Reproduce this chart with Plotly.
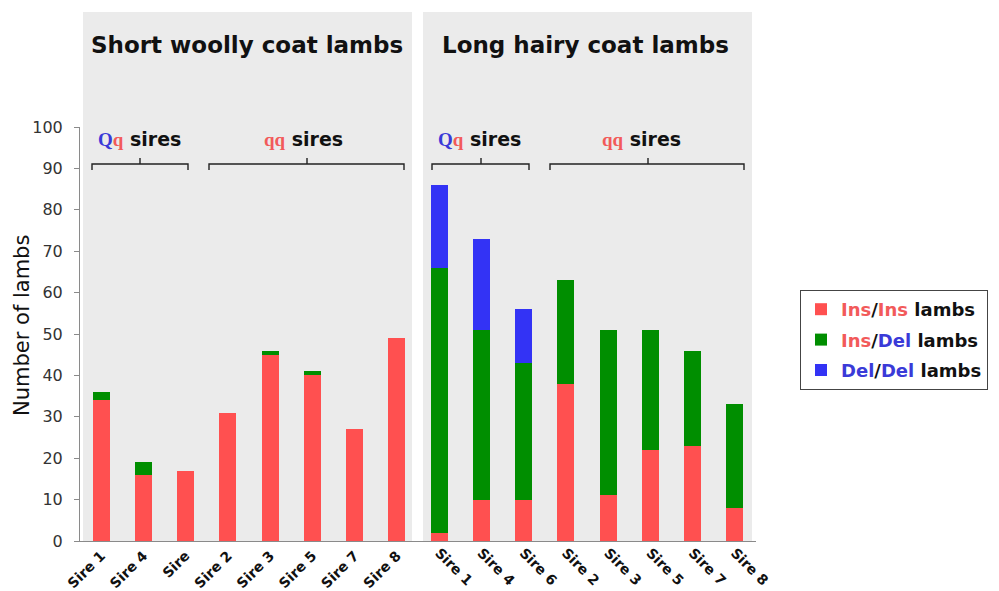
import plotly.graph_objects as go

# Sire labels for each coat group
short_sires = ["Sire 1", "Sire 4", "Sire", "Sire 2", "Sire 3", "Sire 5", "Sire 7", "Sire 8"]
long_sires = ["Sire 1", "Sire 4", "Sire 6", "Sire 2", "Sire 3", "Sire 5", "Sire 7", "Sire 8"]

# Lamb counts by genotype, short woolly coat
short_ins_ins = [34, 16, 17, 31, 45, 40, 27, 49]
short_ins_del = [2, 3, 0, 0, 1, 1, 0, 0]

# Lamb counts by genotype, long hairy coat
long_ins_ins = [2, 10, 10, 38, 11, 22, 23, 8]
long_ins_del = [64, 41, 33, 25, 40, 29, 23, 25]
long_del_del = [20, 22, 13, 0, 0, 0, 0, 0]

y_ticks = [0, 10, 20, 30, 40, 50, 60, 70, 80, 90, 100]

RED = "#FF5050"
GREEN = "#008E00"
BLUE = "#3333F5"
TXT_RED = "#F25A5A"
TXT_BLUE = "#3a3ad8"

short_pos = list(range(len(short_sires)))
long_pos = [len(short_sires) + i for i in range(len(long_sires))]

W, H = 999, 591
L, R, T, B = 80, 756, 127, 541


def px(x):
    return (x - L) / (R - L)


def py(y):
    return (B - y) / (B - T)


fig = go.Figure()

bar_w = 0.4

fig.add_trace(go.Bar(x=short_pos, y=short_ins_ins, marker_color=RED, width=bar_w,
                     xaxis="x", yaxis="y", showlegend=False))
fig.add_trace(go.Bar(x=short_pos, y=short_ins_del, marker_color=GREEN, width=bar_w,
                     xaxis="x", yaxis="y", showlegend=False))

legend_names = [
    f"<span style='color:{TXT_RED}'>Ins</span>/<span style='color:{TXT_RED}'>Ins</span> lambs",
    f"<span style='color:{TXT_RED}'>Ins</span>/<span style='color:{TXT_BLUE}'>Del</span> lambs",
    f"<span style='color:{TXT_BLUE}'>Del</span>/<span style='color:{TXT_BLUE}'>Del</span> lambs",
]
for i, (vals, col, name) in enumerate(zip([long_ins_ins, long_ins_del, long_del_del],
                                          [RED, GREEN, BLUE], legend_names)):
    fig.add_trace(go.Bar(x=long_pos, y=vals, marker_color=col, width=bar_w,
                         xaxis="x2", yaxis="y", name=name, legendgroup=f"g{i}"))

fig.update_traces(marker_line_width=0)

xr = [-0.5, len(short_pos) + len(long_pos) - 0.5]
tick_font = dict(family="DejaVu Sans", size=14, color="#111", weight="bold")

shapes = []
# shaded panels behind each group
for x0, x1 in [(83, 412), (423, 752)]:
    shapes.append(dict(type="rect", xref="paper", yref="paper", layer="below",
                       x0=px(x0), x1=px(x1), y0=0, y1=py(12),
                       fillcolor="#EBEBEB", line_width=0))

# braces grouping sires by genotype
for x0, x1, xc in [(92, 188, 140), (209, 404, 307), (432, 529, 481), (550, 744, 648)]:
    path = (f"M {px(x0)},{py(170)} L {px(x0)},{py(164)} L {px(x1)},{py(164)} "
            f"L {px(x1)},{py(170)} M {px(xc)},{py(164)} L {px(xc)},{py(158)}")
    shapes.append(dict(type="path", xref="paper", yref="paper", path=path,
                       line=dict(color="#222", width=1.4)))

serif = "font-family:Liberation Serif"
Qq = (f"<span style='{serif};color:{TXT_BLUE}'>Q</span>"
      f"<span style='{serif};color:{TXT_RED}'>q</span> sires")
qq = f"<span style='{serif};color:{TXT_RED}'>qq</span> sires"

annotations = [
    dict(text="<b>Short woolly coat lambs</b>", x=px(247), y=py(45)),
    dict(text="<b>Long hairy coat lambs</b>", x=px(585), y=py(45)),
    dict(text=f"<b>{Qq}</b>", x=px(139), y=py(139), font=dict(size=19)),
    dict(text=f"<b>{qq}</b>", x=px(303), y=py(139), font=dict(size=19)),
    dict(text=f"<b>{Qq}</b>", x=px(479), y=py(139), font=dict(size=19)),
    dict(text=f"<b>{qq}</b>", x=px(641), y=py(139), font=dict(size=19)),
    dict(text="Number of lambs", x=px(22), y=py(326), textangle=-90, font=dict(size=21)),
]
for a in annotations:
    a.update(xref="paper", yref="paper", showarrow=False, xanchor="center", yanchor="middle")
    a.setdefault("font", dict(size=23))
    a["font"] = dict(family="DejaVu Sans", color="#111", **a["font"])

fig.update_layout(
    width=W, height=H,
    margin=dict(l=L, r=W - R, t=T, b=H - B, pad=0, autoexpand=False),
    barmode="stack",
    paper_bgcolor="white",
    plot_bgcolor="rgba(0,0,0,0)",
    font=dict(family="DejaVu Sans", color="#222"),
    xaxis=dict(range=xr, tickmode="array", tickvals=short_pos, ticktext=short_sires,
               tickangle=-45, tickfont=tick_font, showgrid=False, zeroline=False,
               showline=True, linecolor="#8a8a8a", linewidth=1, ticks="",
               automargin=False),
    xaxis2=dict(range=xr, tickmode="array", tickvals=long_pos, ticktext=long_sires,
                tickangle=45, tickfont=tick_font, showgrid=False, zeroline=False,
                overlaying="x", side="bottom", anchor="y", showline=False, ticks="",
                automargin=False),
    yaxis=dict(range=[0, 100], tickmode="array", tickvals=y_ticks, showgrid=False,
               zeroline=False, showline=True, linecolor="#8a8a8a", linewidth=1,
               ticks="outside", ticklen=5, tickcolor="#8a8a8a", automargin=False,
               ticklabelstandoff=8,
               tickfont=dict(family="DejaVu Sans", size=16, color="#333")),
    legend=dict(x=px(800), y=py(290), xanchor="left", yanchor="top",
                traceorder="grouped", bgcolor="white", bordercolor="#444", borderwidth=1,
                font=dict(family="DejaVu Sans", size=18, color="#111", weight="bold"),
                itemsizing="constant", tracegroupgap=4),
    shapes=shapes,
    annotations=annotations,
)

fig.write_html("out.html")
